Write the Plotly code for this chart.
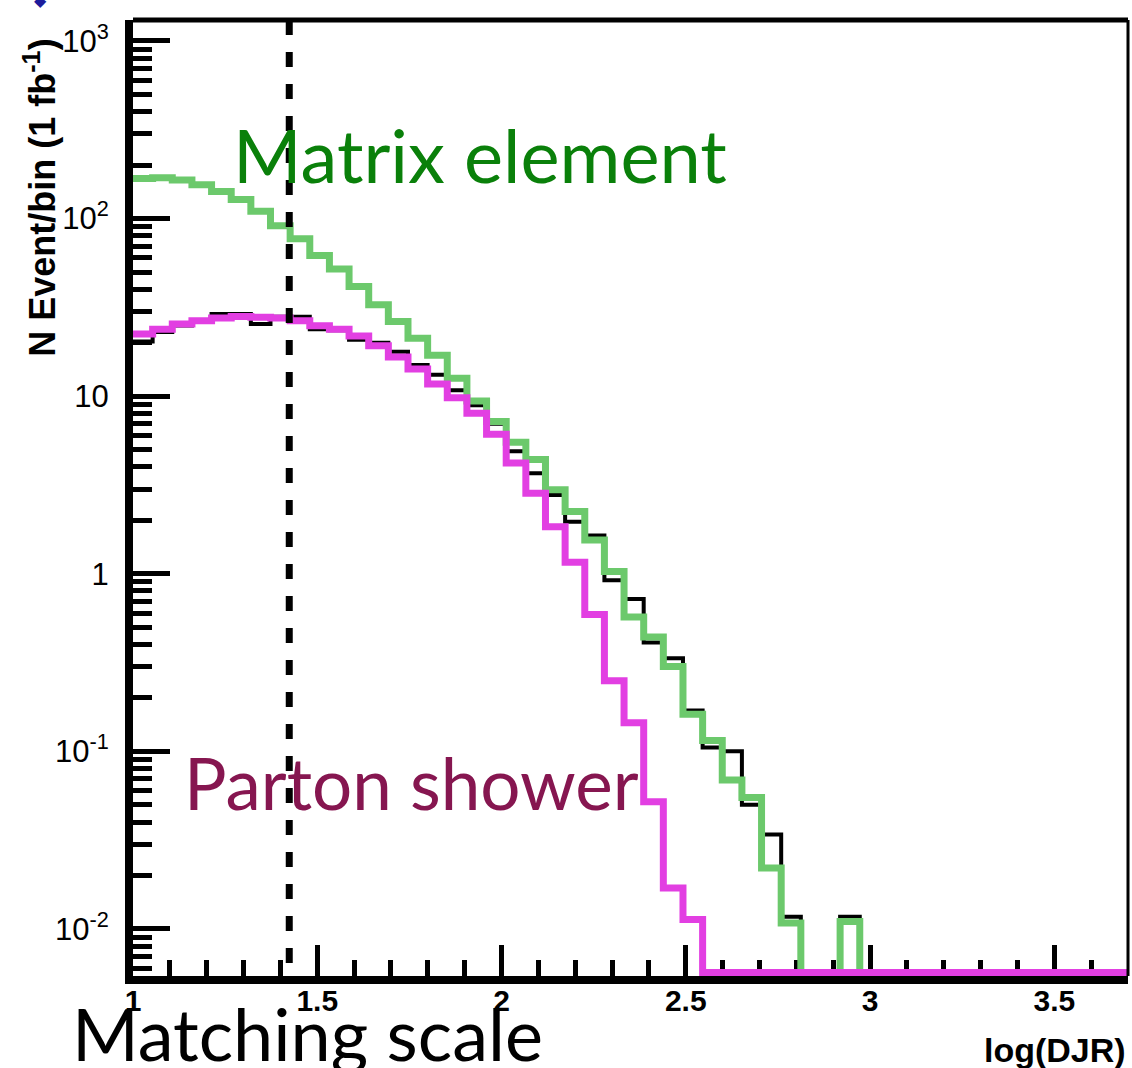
import numpy as np
import plotly.graph_objects as go

# Histogram binning of log(DJR)
bin_start = 1.0
bin_width = 0.0533

# Events per bin (1 fb^-1); 0 means an empty bin
matrix_element = [168, 170, 165, 155, 142, 128, 110, 91, 77, 62,
                  52, 41.4, 32.7, 26.3, 21.2, 17.0, 12.6, 9.4, 7.2, 5.5,
                  4.4, 2.97, 2.24, 1.55, 1.03, 0.57, 0.44, 0.30, 0.162, 0.115,
                  0.069, 0.055, 0.022, 0.0108, 0, 0, 0.011, 0, 0, 0,
                  0, 0, 0, 0, 0, 0, 0, 0, 0, 0, 0]
parton_shower = [22.4, 23.8, 25.5, 26.6, 27.5, 28.1, 27.8, 27.5, 26.6, 24.9,
                 23.8, 21.8, 19.2, 16.6, 14.2, 11.7, 9.8, 8.0, 6.1, 4.2,
                 2.84, 1.84, 1.16, 0.59, 0.25, 0.145, 0.052, 0.017, 0.0113, 0,
                 0, 0, 0, 0, 0, 0, 0, 0, 0, 0,
                 0, 0, 0, 0, 0, 0, 0, 0, 0, 0, 0]
total = [20.3, 23, 25, 26.5, 29, 29, 25.5, 28, 28, 23.8,
         23.5, 20.8, 20, 17.8, 15, 13.2, 10.8, 8.9, 7.0, 4.9,
         3.68, 2.78, 1.96, 1.64, 0.92, 0.72, 0.41, 0.334, 0.17, 0.105,
         0.100, 0.050, 0.034, 0.0117, 0, 0, 0.0117, 0, 0, 0,
         0, 0, 0, 0, 0, 0, 0, 0, 0, 0, 0]

matching_scale = 1.424

x_tick_vals = [1, 1.5, 2, 2.5, 3, 3.5]
x_tick_text = ["1", "1.5", "2", "2.5", "3", "3.5"]
y_tick_vals = [1e-2, 1e-1, 1, 10, 100, 1000]
y_tick_text = ["10<sup>-2</sup>", "10<sup>-1</sup>", "1", "10", "10<sup>2</sup>", "10<sup>3</sup>"]

x_range = [1.0, 3.7]
y_log_range = [-2.265, 3.118]
# empty bins are drawn along the bottom of the frame
floor_val = 10 ** (y_log_range[0] + 0.02)


def step_xy(values):
    n = len(values)
    edges = [bin_start + bin_width * k for k in range(n + 1)]
    vals = [v if v > 0 else floor_val for v in values]
    ys = vals + [floor_val]
    return edges, ys


fig = go.Figure()
for vals, color, width in [(total, "#000000", 4),
                           (matrix_element, "#6cc96c", 7),
                           (parton_shower, "#e23fe2", 7)]:
    xs, ys = step_xy(vals)
    fig.add_trace(go.Scatter(x=xs, y=ys, mode="lines",
                             line=dict(color=color, width=width, shape="hv"),
                             showlegend=False, hoverinfo="skip"))

# matching scale marker
fig.add_shape(type="line", xref="x", yref="paper",
              x0=matching_scale, x1=matching_scale, y0=1, y1=0,
              line=dict(color="black", width=7, dash="15px,17px"))

# thinner top/right frame
fig.add_shape(type="line", xref="paper", yref="paper", x0=0, x1=1, y0=1, y1=1,
              line=dict(color="black", width=5))
fig.add_shape(type="line", xref="paper", yref="paper", x0=1, x1=1, y0=0, y1=1,
              line=dict(color="black", width=3))

sans = "Liberation Sans, Arial, sans-serif"
x_tick_font = dict(family=sans, size=30, color="black", weight="bold")
y_tick_font = dict(family=sans, size=31, color="black")

minor_y = [m * 10.0 ** d for d in range(-3, 4) for m in range(2, 10)
           if y_log_range[0] <= np.log10(m * 10.0 ** d) <= y_log_range[1]]

fig.update_xaxes(range=x_range, showgrid=False, zeroline=False,
                 showline=True, linecolor="black", linewidth=8, layer="below traces",
                 ticks="inside", tickvals=x_tick_vals, ticktext=x_tick_text,
                 ticklen=31, tickwidth=5, tickcolor="black", tickfont=x_tick_font,
                 ticklabelstandoff=-9,
                 minor=dict(ticks="inside", dtick=0.1, tick0=1, ticklen=16,
                            tickwidth=5, tickcolor="black", showgrid=False))
fig.update_yaxes(type="log", range=y_log_range, showgrid=False, zeroline=False,
                 showline=True, linecolor="black", linewidth=8, layer="above traces",
                 ticks="inside", tickvals=y_tick_vals, ticktext=y_tick_text,
                 ticklen=37, tickwidth=5, tickcolor="black", tickfont=y_tick_font,
                 ticklabelstandoff=10,
                 minor=dict(ticks="inside", tickvals=minor_y, ticklen=19,
                            tickwidth=5, tickcolor="black", showgrid=False))

big_font = "Lato, 'Open Sans', sans-serif"
annotations = [
    dict(text="Matrix element", x=0.3487, y=0.8588, font=dict(family=big_font, size=74, color="#0a800a")),
    dict(text="Parton shower", x=0.2799, y=0.2019, font=dict(family=big_font, size=71, color="#861650")),
    dict(text="Matching scale", x=0.1754, y=-0.0596, font=dict(family=big_font, size=72, color="black")),
]
for a in annotations:
    fig.add_annotation(xref="paper", yref="paper", xanchor="center", yanchor="middle",
                       showarrow=False, **a)

fig.add_annotation(text="N Event/bin (1 fb<sup>-1</sup>)", xref="paper", yref="paper",
                   x=-0.0935, y=0.814, textangle=-90, showarrow=False,
                   xanchor="center", yanchor="middle",
                   font=dict(family=sans, size=36, color="black", weight="bold"))
fig.add_annotation(text="log(DJR)", xref="paper", yref="paper",
                   x=1.0, y=-0.0774, xanchor="right", yanchor="middle", showarrow=False,
                   font=dict(family=sans, size=34, color="black", weight="bold"))
fig.add_annotation(text="◆", xref="paper", yref="paper", x=-0.0925, y=1.021,
                   xanchor="center", yanchor="middle", showarrow=False,
                   font=dict(size=16, color="#1c1c9c"))

fig.update_layout(width=1132, height=1068,
                  margin=dict(l=133, r=4, t=20, b=92),
                  plot_bgcolor="white", paper_bgcolor="white")

fig.write_html("out.html")
